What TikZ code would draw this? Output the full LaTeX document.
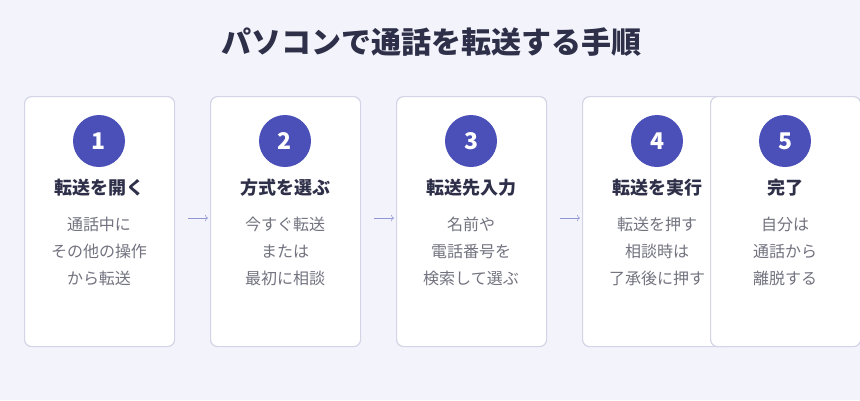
\documentclass[tikz,border=0pt]{standalone}
\usepackage{fontspec}
\usetikzlibrary{arrows.meta}
\setmainfont{Noto Sans CJK JP}
\definecolor{bg}{HTML}{F3F3FB}
\definecolor{bd}{HTML}{D3D4E6}
\definecolor{ac}{HTML}{4A50B8}
\definecolor{tx}{HTML}{2E2F48}
\definecolor{gy}{HTML}{72737F}
\begin{document}
\begin{tikzpicture}[x=1pt,y=-1pt,
  box/.style={draw=bd,line width=1.2pt,fill=white,rounded corners=7pt,minimum width=150pt,minimum height=250pt,anchor=north west},
  num/.style={circle,fill=ac,minimum size=52pt,inner sep=0pt,text=white,font=\fontsize{23}{26}\selectfont\bfseries},
  head/.style={text=tx,font=\fontsize{18}{22}\selectfont\bfseries},
  body/.style={text=gy,font=\fontsize{16}{27}\selectfont,align=center},
  arr/.style={draw=ac!60,line width=0.6pt,-{To[length=3pt]}}]
\fill[bg] (0,0) rectangle (860,400);
\useasboundingbox (0,0) rectangle (860,400);
\node[text=tx,font=\fontsize{30}{34}\selectfont\bfseries] (title) at (431,42) {パソコンで通話を転送する手順};
\foreach \i/\x/\h/\b in {1/24/転送を開く/{通話中に\\その他の操作\\から転送},
  2/210/方式を選ぶ/{今すぐ転送\\または\\最初に相談},
  3/396/転送先入力/{名前や\\電話番号を\\検索して選ぶ},
  4/582/転送を実行/{転送を押す\\相談時は\\了承後に押す},
  5/710/完了/{自分は\\通話から\\離脱する}}{
  \node[box] (b\i) at (\x,96) {};
  \node[num] (n\i) at (\x+75,141) {\i};
  \node[head] (h\i) at (\x+75,188) {\h};
  \node[body] (t\i) at (\x+75,251) {\b};
}
\coordinate (a1) at (188,218); \coordinate (e1) at (208,218);
\coordinate (a2) at (374,218); \coordinate (e2) at (394,218);
\coordinate (a3) at (560,218); \coordinate (e3) at (580,218);
\foreach \i in {1,2,3}{\draw[arr] (a\i) -- (e\i);}
\end{tikzpicture}
\end{document}
